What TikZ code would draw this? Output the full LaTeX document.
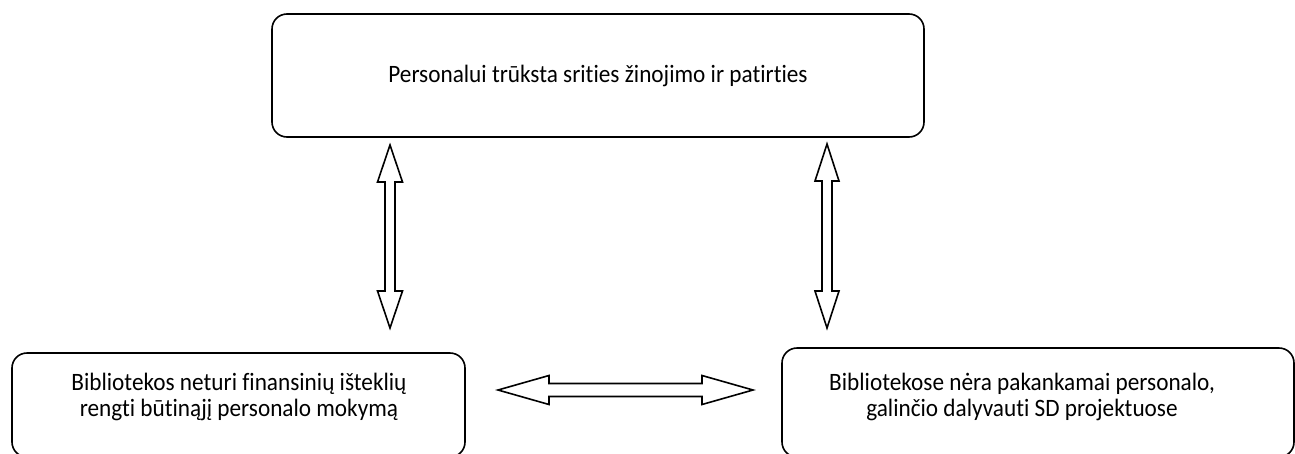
\documentclass[tikz,border=0pt]{standalone}
\usepackage{fontspec}
\setmainfont{Carlito}[FakeStretch=0.93, Ligatures=NoCommon]
\usetikzlibrary{calc}
\tikzset{
  box/.style={draw, line width=1.6pt, rounded corners=15pt, inner sep=0pt},
  txt/.style={font=\fontsize{25}{26}\selectfont, align=center, inner sep=0pt},
  blockarrow/.style={draw, line width=1.6pt, fill=white, line join=miter},
}
% #1,#2 end coordinates, #3 head length, #4 head half width, #5 shaft half width
\newcommand\blockarr[5]{%
  \draw[blockarrow] (#1)
   -- ($(#1)!#3!(#2)!#4!90:(#2)$)
   -- ($(#1)!#3!(#2)!#5!90:(#2)$)
   -- ($(#2)!#3!(#1)!#5!-90:(#1)$)
   -- ($(#2)!#3!(#1)!#4!-90:(#1)$)
   -- (#2)
   -- ($(#2)!#3!(#1)!#4!90:(#1)$)
   -- ($(#2)!#3!(#1)!#5!90:(#1)$)
   -- ($(#1)!#3!(#2)!#5!-90:(#2)$)
   -- ($(#1)!#3!(#2)!#4!-90:(#2)$)
   -- cycle;}
\begin{document}
\begin{tikzpicture}[x=1pt,y=-1pt]
\useasboundingbox (0,0) rectangle (1295,453);
% boxes
\node[box, minimum width=652pt, minimum height=123pt] (top) at (598,75.5) {};
\node[box, minimum width=453pt, minimum height=104pt] (left) at (238.5,405) {};
\node[box, minimum width=512pt, minimum height=109pt] (right) at (1038,402.5) {};
% texts
\node[txt] (toptext) at (598,76) {Personalui trūksta srities žinojimo ir patirties};
\node[txt] (lefttext) at (239,397) {Bibliotekos neturi finansinių išteklių\\rengti būtinąjį personalo mokymą};
\node[txt] (righttext) at (1022,397) {Bibliotekose nėra pakankamai personalo,\\galinčio dalyvauti SD projektuose};
% arrow ends
\coordinate (a1) at (390,145);
\coordinate (a2) at (390,328);
\coordinate (b1) at (827,144);
\coordinate (b2) at (827,328);
\coordinate (c1) at (498,390);
\coordinate (c2) at (753,390);
\blockarr{a1}{a2}{37pt}{12.5pt}{5pt}
\blockarr{b1}{b2}{37pt}{12pt}{5pt}
\blockarr{c1}{c2}{51pt}{14.5pt}{6.5pt}
\end{tikzpicture}
\end{document}
